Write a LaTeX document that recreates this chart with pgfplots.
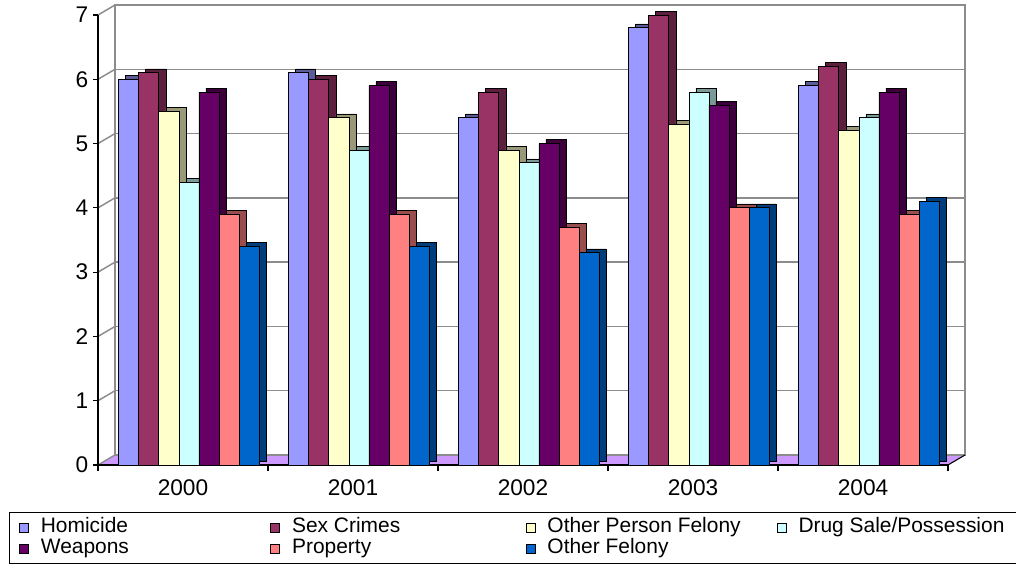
\documentclass[border=0pt]{standalone}
\usepackage{pgfplots}
\usepackage{pgfplotstable}
\pgfplotsset{compat=1.18}
\usepackage{fontspec}
\setmainfont{Liberation Sans}

\definecolor{chom}{HTML}{9999FF}
\definecolor{csex}{HTML}{993366}
\definecolor{copf}{HTML}{FFFFCC}
\definecolor{cdrug}{HTML}{CCFFFF}
\definecolor{cweap}{HTML}{660066}
\definecolor{cprop}{HTML}{FF8080}
\definecolor{cof}{HTML}{0066CC}
\definecolor{cfloor}{HTML}{CC99FF}
\definecolor{cgrid}{HTML}{8C8C8C}

% rates per year (0=2000 ... 4=2004)
\pgfplotstableread{
yr hom sex opf drug weap prop of
0  6.0 6.1 5.5 4.4  5.8  3.9  3.4
1  6.1 6.0 5.4 4.9  5.9  3.9  3.4
2  5.4 5.8 4.9 4.7  5.0  3.7  3.3
3  6.8 7.0 5.3 5.8  5.6  4.0  4.0
4  5.9 6.2 5.2 5.4  5.8  3.9  4.1
}\crimes

% depth face first, then the front face
\newcommand{\crimebar}[3]{%
  \addplot[forget plot, fill=#2!60!black, draw=black, line width=0.5pt,
    bar shift=#3, xshift=5.25pt, yshift=3pt] table[x=yr,y=#1]{\crimes};
  \addplot[fill=#2, draw=black, line width=0.6pt, bar shift=#3]
    table[x=yr,y=#1]{\crimes};
}

\begin{document}
\begin{tikzpicture}
\useasboundingbox (-73.5pt,-76.5pt) rectangle (688.5pt,348.75pt);

% back wall with the grid
\begin{axis}[
    at={(12.75pt,7.5pt)}, anchor=south west,
    scale only axis, width=637.5pt, height=337.5pt,
    xmin=-0.5, xmax=4.5, ymin=0, ymax=7,
    xtick=\empty, ytick={0,...,7}, yticklabels={},
    major tick length=0pt,
    ymajorgrids, grid style={cgrid, line width=1.1pt},
    axis line style={cgrid, line width=1.1pt},
    clip=false,
]
\fill[cfloor] (rel axis cs:0,0) -- (rel axis cs:1,0)
    -- ([shift={(-12.75pt,-7.5pt)}]rel axis cs:1,0)
    -- ([shift={(-12.75pt,-7.5pt)}]rel axis cs:0,0) -- cycle;
\draw[cgrid, line width=1.1pt] (rel axis cs:0,0) -- (rel axis cs:1,0);
\draw[black, line width=0.8pt] (rel axis cs:1,0) -- ([shift={(-12.75pt,-7.5pt)}]rel axis cs:1,0);
\pgfplotsinvokeforeach{0,...,7}{
  \draw[cgrid, line width=1.1pt] ([shift={(-12.75pt,-7.5pt)}]axis cs:-0.5,#1) -- (axis cs:-0.5,#1);
}
\end{axis}

% front: axes, ticks, bars, legend
\begin{axis}[
    at={(0pt,0pt)}, anchor=south west,
    scale only axis, width=637.5pt, height=337.5pt,
    xmin=-0.5, xmax=4.5, ymin=0, ymax=7,
    axis lines*=left, clip=false,
    axis line style={black, line width=0.9pt},
    ybar=0pt, bar width=0.118,
    ytick={0,...,7}, tick align=outside, major tick length=3.75pt,
    ytick style={black, line width=0.8pt},
    xtick={0,...,4}, xticklabels={2000,2001,2002,2003,2004},
    xtick style={draw=none},
    extra x ticks={-0.5,0.5,1.5,2.5,3.5,4.5}, extra x tick labels={},
    extra x tick style={xtick style={draw=black, line width=0.8pt}, major tick length=4.5pt},
    /pgf/number format/assume math mode=true,
    ticklabel style={font=\fontsize{17}{20}\selectfont},
    xticklabel style={yshift=-4pt},
    legend columns=4,
    legend image code/.code={\draw[#1, line width=0.6pt] (0pt,-3.4pt) rectangle (6.8pt,3.4pt);},
    legend style={
      at={(axis description cs:-0.1047,-0.1044)}, anchor=north west,
      draw=black, line width=1pt,
      font=\fontsize{15.7}{17}\selectfont,
      inner xsep=7pt, inner ysep=3.3pt,
      cells={anchor=west},
      nodes={inner xsep=2pt, inner ysep=0.6pt, text height=11.2pt, text depth=3.4pt},
      /tikz/column 1/.style={column sep=7pt},
      /tikz/column 3/.style={column sep=7pt},
      /tikz/column 5/.style={column sep=7pt},
      /tikz/column 7/.style={column sep=7pt},
      /tikz/column 2/.style={column sep=104pt},
      /tikz/column 4/.style={column sep=92pt},
      /tikz/column 6/.style={column sep=25pt},
    },
]
\crimebar{hom}{chom}{-0.319}
\crimebar{sex}{csex}{-0.201}
\crimebar{opf}{copf}{-0.083}
\crimebar{drug}{cdrug}{0.035}
\crimebar{weap}{cweap}{0.153}
\crimebar{prop}{cprop}{0.271}
\crimebar{of}{cof}{0.389}
\legend{Homicide, Sex Crimes, Other Person Felony, Drug Sale/Possession,
        Weapons, Property, Other Felony}
\end{axis}
\end{tikzpicture}
\end{document}
